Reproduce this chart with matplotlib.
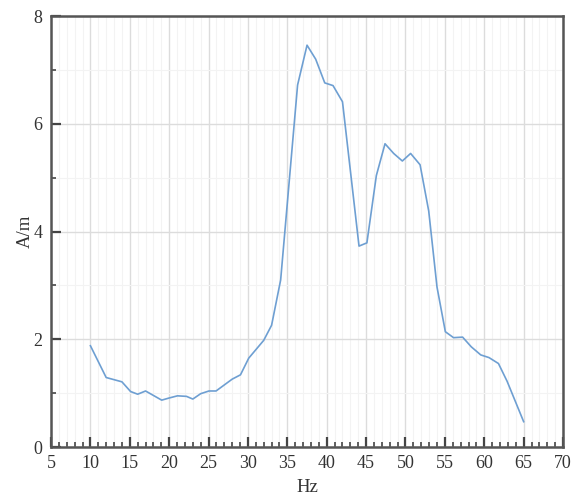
import matplotlib
matplotlib.use("Agg")
import matplotlib.pyplot as plt
from matplotlib.ticker import MultipleLocator

hz = [10.0, 12.0, 14.0, 15.1, 16.0, 17.0, 19.05, 20.0, 21.05, 22.2, 23.0, 24.0,
      25.05, 25.95, 28.0, 29.05, 30.1, 32.0, 33.0, 34.15, 36.3, 37.5, 38.6,
      39.75, 40.8, 42.0, 44.1, 45.1, 46.3, 47.4, 48.5, 49.6, 50.65, 51.85,
      52.95, 54.0, 55.06, 56.1, 57.25, 58.35, 59.55, 60.6, 61.8, 62.9, 65.0]
am = [1.88, 1.29, 1.21, 1.03, 0.98, 1.04, 0.87, 0.91, 0.95, 0.94, 0.89, 0.99,
      1.04, 1.04, 1.26, 1.34, 1.65, 1.98, 2.26, 3.10, 6.72, 7.46, 7.20,
      6.76, 6.71, 6.41, 3.73, 3.79, 5.04, 5.63, 5.45, 5.31, 5.45, 5.24,
      4.38, 2.97, 2.14, 2.03, 2.04, 1.86, 1.71, 1.66, 1.55, 1.22, 0.47]

plt.rcParams['font.family'] = ['Liberation Serif', 'DejaVu Serif']

fig = plt.figure(figsize=(5.74, 4.97), dpi=100)
ax = fig.add_axes([0.0889, 0.1006, 0.892, 0.867])

ax.plot(hz, am, color='#6e9fd2', lw=1.2, zorder=3)

ax.set_xlim(5, 70)
ax.set_ylim(0, 8)
ax.xaxis.set_major_locator(MultipleLocator(5))
ax.xaxis.set_minor_locator(MultipleLocator(1))
ax.yaxis.set_major_locator(MultipleLocator(2))
ax.yaxis.set_minor_locator(MultipleLocator(1))

ax.grid(which='major', color='#dcdcdc', lw=1.0, zorder=0)
ax.grid(which='minor', color='#f3f3f3', lw=0.8, zorder=0)
ax.set_axisbelow(True)

for s in ax.spines.values():
    s.set_color('#555555')
    s.set_linewidth(1.8)

ax.tick_params(which='major', direction='in', length=7, width=1.6, color='#444444',
               labelsize=13, labelcolor='#333333', pad=6, top=False, right=False)
ax.tick_params(which='minor', direction='in', length=3.5, width=1.2, color='#444444',
               top=False, right=False)

ax.set_xlabel('Hz', fontsize=13.5, color='#333333', labelpad=5)
ax.set_ylabel('A/m', fontsize=13.5, color='#333333', labelpad=0)

fig.savefig('out.png', dpi=100)
